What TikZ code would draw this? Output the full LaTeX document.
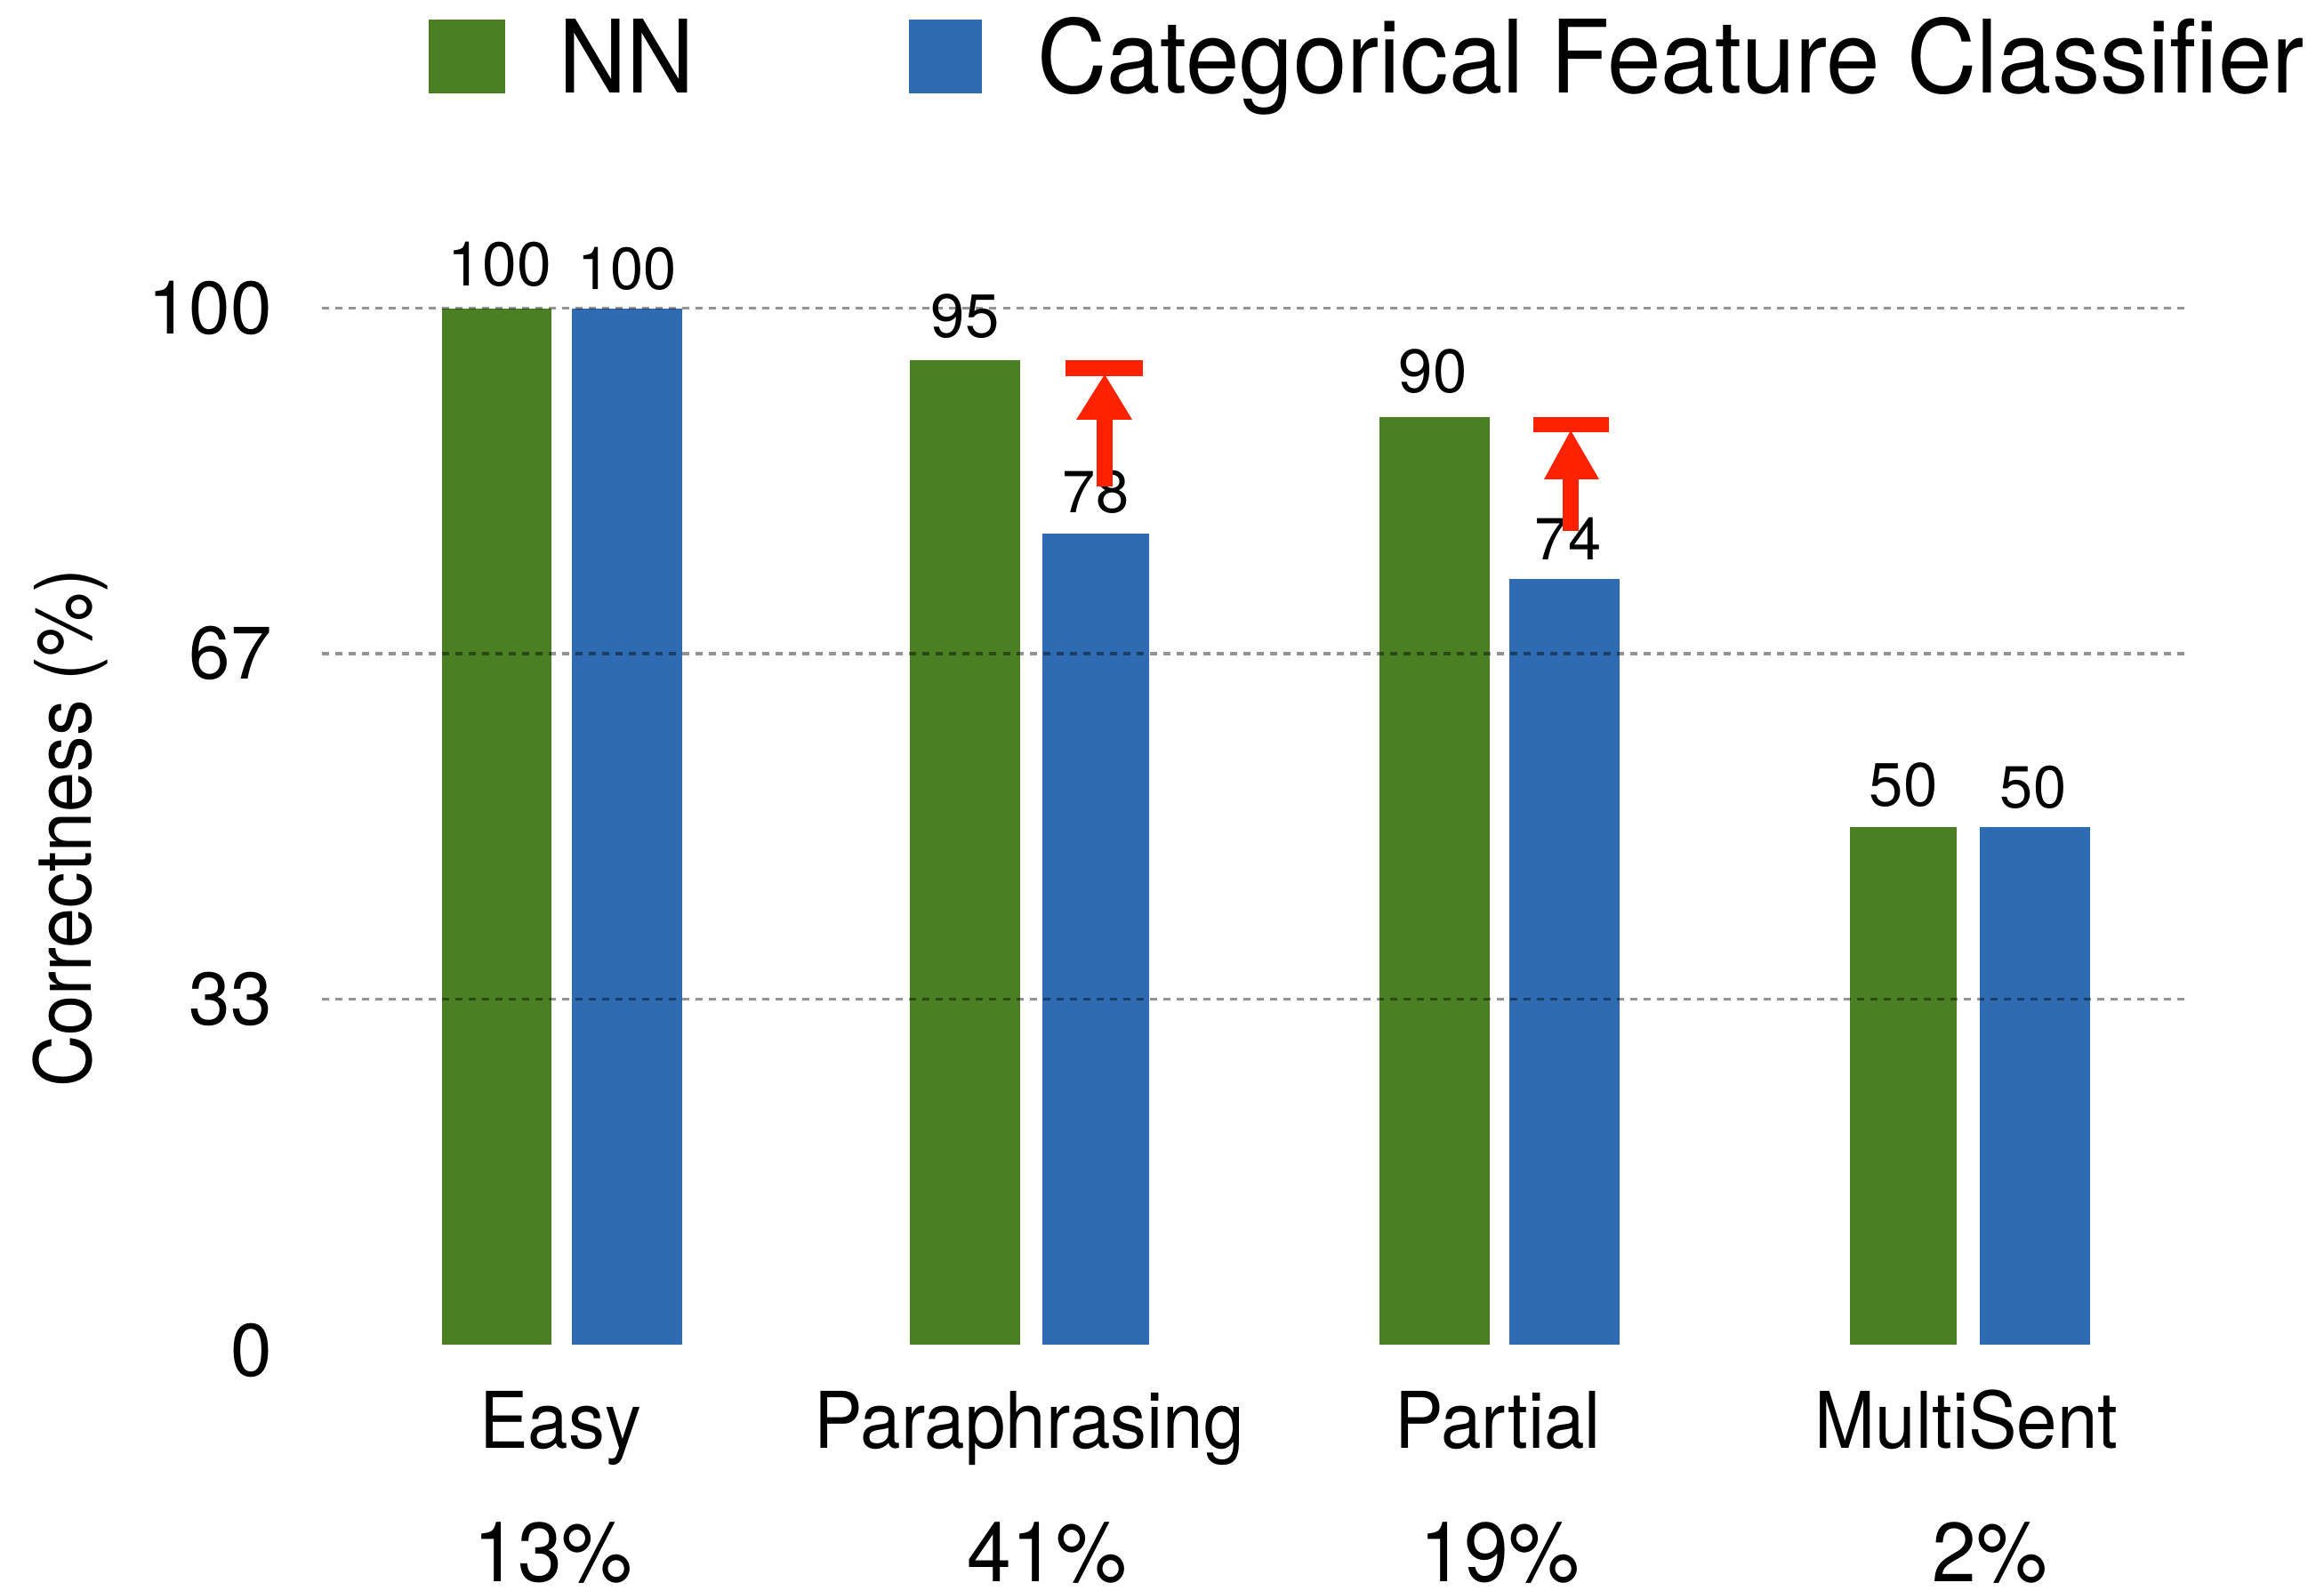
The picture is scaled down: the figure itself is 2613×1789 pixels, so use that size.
\documentclass[tikz,border=0pt]{standalone}
\usepackage{fontspec}
\setmainfont{TeX Gyre Heros}
\usepackage{graphicx}
\definecolor{nngreen}{RGB}{75,127,36}
\definecolor{cfblue}{RGB}{47,107,178}
\definecolor{upred}{RGB}{255,34,0}
\newcommand{\hvtext}[3]{\scalebox{#1}[1]{\fontsize{#2}{#2}\selectfont #3}}
\tikzset{
  barG/.style={fill=nngreen, draw=none},
  barB/.style={fill=cfblue, draw=none},
  grid line/.style={draw=black, opacity=0.42, line width=0.03cm, dash pattern=on 0.08cm off 0.07cm},
  lbl/.style={inner sep=0pt, outer sep=0pt, text=black},
  redpart/.style={fill=upred, draw=none}
}
\begin{document}
\begin{tikzpicture}[x=0.01cm, y=-0.01cm]
\useasboundingbox (0,0) rectangle (2613,1789);
% legend
\fill[nngreen] (482,22) rectangle (568,105);
\fill[cfblue] (1022,22) rectangle (1104,105);
\node[lbl, anchor=base west] (legNN) at (628,105) {\hvtext{0.93}{32.4pt}{NN}};
\node[lbl, anchor=base west] (legCF) at (1166,105) {\hvtext{0.953}{32.4pt}{Categorical Feature Classifier}};
% bars
\fill[barG] (497,347) rectangle (620,1512);
\fill[barB] (643,347) rectangle (767,1512);
\fill[barG] (1023,405) rectangle (1147,1512);
\fill[barB] (1172,600) rectangle (1292,1512);
\fill[barG] (1551,469) rectangle (1675,1512);
\fill[barB] (1697,651) rectangle (1821,1512);
\fill[barG] (2080,930) rectangle (2200,1512);
\fill[barB] (2226,930) rectangle (2350,1512);
% grid lines
\coordinate (g100a) at (362,347); \coordinate (g100b) at (2460,347);
\coordinate (g67a) at (362,735); \coordinate (g67b) at (2460,735);
\coordinate (g33a) at (362,1123); \coordinate (g33b) at (2460,1123);
\draw[grid line] (g100a) -- (g100b);
\draw[grid line] (g67a) -- (g67b);
\draw[grid line] (g33a) -- (g33b);
% tick labels
\node[lbl, anchor=base east] (t100) at (306,376) {\hvtext{1}{23.8pt}{100}};
\node[lbl, anchor=base east] (t67) at (306,764) {\hvtext{1}{23.8pt}{67}};
\node[lbl, anchor=base east] (t33) at (306,1152) {\hvtext{1}{23.8pt}{33}};
\node[lbl, anchor=base east] (t0) at (306,1547) {\hvtext{1}{23.8pt}{0}};
% y label
\node[lbl, anchor=base, rotate=90] (ylab) at (102,931) {\hvtext{0.92}{25pt}{Correctness (\%)}};
% value labels
\node[lbl, anchor=base] (v1) at (562,322) {\hvtext{1}{19.8pt}{100}};
\node[lbl, anchor=base] (v2) at (705,326) {\hvtext{1}{19pt}{100}};
\node[lbl, anchor=base] (v3) at (1085,380) {\hvtext{1}{19.6pt}{95}};
\node[lbl, anchor=base] (v4) at (1232,577) {\hvtext{1}{19pt}{78}};
\node[lbl, anchor=base] (v5) at (1611,442) {\hvtext{1}{19.6pt}{90}};
\node[lbl, anchor=base] (v6) at (1763,630) {\hvtext{1}{19pt}{74}};
\node[lbl, anchor=base] (v7) at (2140,906) {\hvtext{1}{19.6pt}{50}};
\node[lbl, anchor=base] (v8) at (2286,908) {\hvtext{1}{19pt}{50}};
% category labels
\node[lbl, anchor=base] (c1) at (630,1628) {\hvtext{0.93}{25pt}{Easy}};
\node[lbl, anchor=base] (c2) at (1157,1628) {\hvtext{0.93}{25pt}{Paraphrasing}};
\node[lbl, anchor=base] (c3) at (1684,1628) {\hvtext{0.93}{25pt}{Partial}};
\node[lbl, anchor=base] (c4) at (2211,1628) {\hvtext{0.93}{25pt}{MultiSent}};
% percent labels
\node[lbl, anchor=base] (p1) at (622,1778) {\hvtext{0.95}{26.8pt}{13\%}};
\node[lbl, anchor=base] (p2) at (1177,1778) {\hvtext{0.95}{26.8pt}{41\%}};
\node[lbl, anchor=base] (p3) at (1686,1778) {\hvtext{0.95}{26.8pt}{19\%}};
\node[lbl, anchor=base] (p4) at (2237,1778) {\hvtext{0.95}{26.8pt}{2\%}};
% red arrows
\fill[redpart] (1198,405) rectangle (1285,423);
\fill[redpart] (1242,421) -- (1273,472) -- (1210,472) -- cycle;
\fill[redpart] (1233,470) rectangle (1251,547);
\fill[redpart] (1724,469) rectangle (1809,486);
\fill[redpart] (1766,484) -- (1798,539) -- (1736,539) -- cycle;
\fill[redpart] (1757,537) rectangle (1775,597);
\end{tikzpicture}
\end{document}
